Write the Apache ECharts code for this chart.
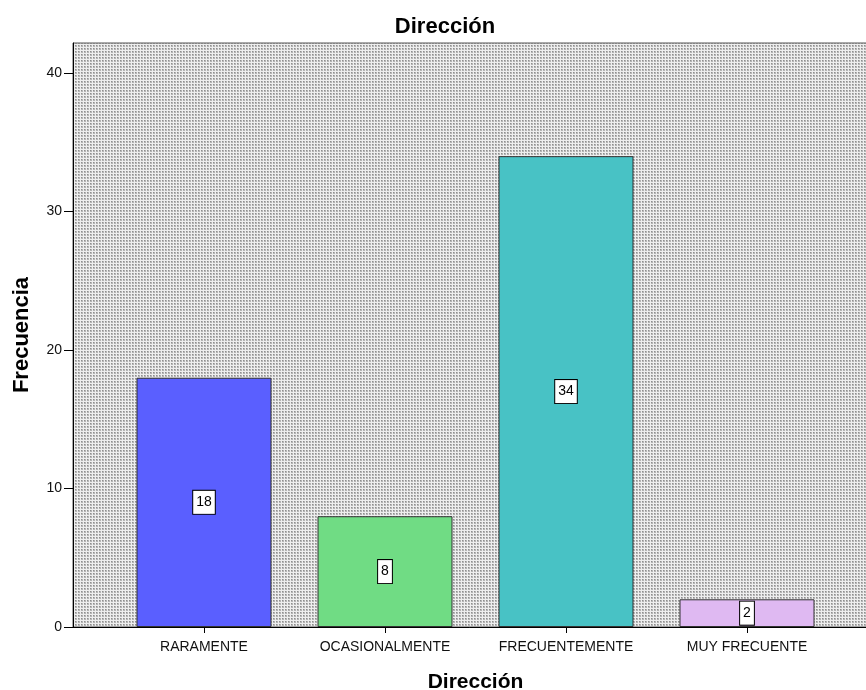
<!DOCTYPE html>
<html>
<head>
<meta charset="utf-8">
<script src="https://cdn.jsdelivr.net/npm/echarts@6/dist/echarts.min.js"></script>
<style>
  html, body { margin: 0; padding: 0; background: #fff; }
  #chart { width: 866px; height: 690px; }
</style>
</head>
<body>
<div id="chart"></div>
<script>
// Frequency of each answer for "Dirección"
const categories = ['RARAMENTE', 'OCASIONALMENTE', 'FRECUENTEMENTE', 'MUY FRECUENTE'];
const frequencies = [18, 8, 34, 2];
const barColors = ['#5a5fff', '#70dc84', '#48c2c5', '#dfb9f2'];
const yTicks = { min: 0, max: 42.17, interval: 10 };

// Dotted gray fill for the plot area
function dotPattern() {
  const c = document.createElement('canvas');
  c.width = 3; c.height = 3;
  const ctx = c.getContext('2d');
  ctx.fillStyle = '#eeeeee';
  ctx.fillRect(0, 0, 3, 3);
  ctx.fillStyle = '#b4b4b4';
  ctx.fillRect(0, 0, 2, 2);
  ctx.fillStyle = '#8e8e8e';
  ctx.fillRect(0, 0, 1, 1);
  return { image: c, repeat: 'repeat' };
}

const chart = echarts.init(document.getElementById('chart'), null, { renderer: 'canvas' });
const font = 'Arial, "Liberation Sans", sans-serif';

chart.setOption({
  animation: false,
  title: {
    text: 'Dirección',
    left: 440,
    textAlign: 'center',
    top: 11,
    textStyle: { fontFamily: font, fontSize: 22, fontWeight: 'bold', color: '#000' }
  },
  grid: [
    { left: 73, right: -3, top: 43, bottom: 63, show: true, outerBoundsMode: 'none', containLabel: false,
      backgroundColor: dotPattern(), borderColor: '#555', borderWidth: 1 },
    { left: 113.5, width: 724, top: 43, bottom: 63, outerBoundsMode: 'none', containLabel: false }
  ],
  xAxis: [
    { type: 'value', gridIndex: 0, min: 0, max: 1,
      axisLine: { show: true, onZero: false, lineStyle: { color: '#000', width: 1 } },
      axisTick: { show: false }, axisLabel: { show: false }, splitLine: { show: false } },
    { type: 'category', gridIndex: 1, data: categories,
      axisLine: { show: false },
      axisTick: { show: true, alignWithLabel: true, length: 6, lineStyle: { color: '#000' } },
      axisLabel: { fontFamily: font, fontSize: 14, color: '#111', margin: 13, interval: 0 },
      name: 'Dirección', nameLocation: 'middle', nameGap: 45,
      nameTextStyle: { fontFamily: font, fontSize: 21, fontWeight: 'bold', color: '#000' } }
  ],
  yAxis: [
    { type: 'value', gridIndex: 0, min: yTicks.min, max: yTicks.max, interval: yTicks.interval,
      axisLine: { show: true, lineStyle: { color: '#000', width: 1 } },
      axisTick: { show: true, length: 9, lineStyle: { color: '#000' } },
      axisLabel: { fontFamily: font, fontSize: 14, color: '#111', margin: 11, showMaxLabel: false },
      splitLine: { show: false },
      name: 'Frecuencia', nameLocation: 'middle', nameRotate: 90, nameGap: 40,
      nameTextStyle: { fontFamily: font, fontSize: 22, fontWeight: 'bold', color: '#000' } },
    { type: 'value', gridIndex: 1, min: yTicks.min, max: yTicks.max, show: false }
  ],
  series: [{
    type: 'bar',
    xAxisIndex: 1,
    yAxisIndex: 1,
    barWidth: 135,
    data: frequencies.map((v, i) => ({
      value: v,
      itemStyle: { color: barColors[i], borderColor: '#333', borderWidth: 1 }
    })),
    label: {
      show: true,
      position: 'inside',
      fontFamily: font,
      fontSize: 14,
      color: '#000',
      backgroundColor: '#fff',
      borderColor: '#000',
      borderWidth: 1,
      padding: [5, 3, 4, 3]
    }
  }]
});
</script>
</body>
</html>
